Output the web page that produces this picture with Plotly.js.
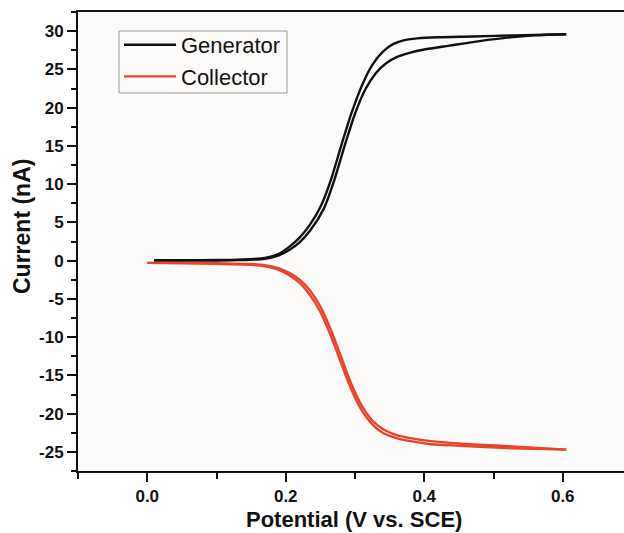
<!DOCTYPE html>
<html>
<head>
<meta charset="utf-8">
<script src="https://cdn.plot.ly/plotly-3.0.1.min.js"></script>
<style>
html,body{margin:0;padding:0;overflow:hidden;background:#fff;}
#chart{width:640px;height:533px;}
</style>
</head>
<body>
<div id="chart"></div>
<script>
// Generator, forward branch (upper plateau)
var genFwdX = [0.01, 0.05, 0.10, 0.13, 0.15, 0.17, 0.19, 0.205, 0.22, 0.235, 0.25, 0.265, 0.28, 0.295, 0.31, 0.325, 0.34, 0.355, 0.37, 0.39, 0.42, 0.47, 0.53, 0.605];
var genFwdY = [0.05, 0.05, 0.08, 0.12, 0.2, 0.35, 0.9, 1.8, 3.0, 4.7, 7.0, 10.5, 15.0, 19.3, 22.9, 25.6, 27.3, 28.3, 28.8, 29.05, 29.2, 29.3, 29.45, 29.6];
// Generator, reverse branch (lower plateau)
var genRevX = [0.01, 0.05, 0.10, 0.13, 0.15, 0.17, 0.19, 0.205, 0.22, 0.235, 0.255, 0.27, 0.285, 0.30, 0.315, 0.33, 0.345, 0.36, 0.38, 0.40, 0.436, 0.48, 0.52, 0.56, 0.605];
var genRevY = [0.0, 0.0, 0.02, 0.06, 0.12, 0.25, 0.7, 1.4, 2.4, 3.9, 6.8, 10.5, 15.0, 19.2, 22.4, 24.5, 25.8, 26.6, 27.2, 27.6, 28.1, 28.7, 29.15, 29.45, 29.6];
// Collector, two overlapping scans
var colAX = [0.0, 0.05, 0.10, 0.15, 0.17, 0.19, 0.205, 0.22, 0.235, 0.25, 0.265, 0.28, 0.295, 0.31, 0.325, 0.34, 0.36, 0.38, 0.41, 0.45, 0.52, 0.605];
var colAY = [-0.3, -0.3, -0.35, -0.45, -0.6, -1.0, -1.6, -2.5, -3.9, -6.0, -9.0, -12.6, -16.2, -19.0, -20.9, -22.0, -22.8, -23.2, -23.6, -23.9, -24.25, -24.7];
var colBX = [0.0, 0.05, 0.10, 0.15, 0.17, 0.19, 0.205, 0.22, 0.235, 0.25, 0.265, 0.28, 0.295, 0.31, 0.325, 0.34, 0.36, 0.38, 0.41, 0.45, 0.52, 0.605];
var colBY = [-0.3, -0.35, -0.4, -0.55, -0.75, -1.2, -1.9, -2.9, -4.5, -6.7, -9.8, -13.4, -16.9, -19.6, -21.4, -22.5, -23.2, -23.6, -24.0, -24.2, -24.5, -24.7];

var yTicks = [-25, -20, -15, -10, -5, 0, 5, 10, 15, 20, 25, 30];
var yTickText = ['-25', '-20', '-15', '-10', '-5', '0', '5', '10', '15', '20', '25', '30'];
var xTicks = [0.0, 0.2, 0.4, 0.6];
var xTickText = ['0.0', '0.2', '0.4', '0.6'];

var black = '#111111';
var red = '#e8442c';
var fam = 'Liberation Sans, Arial, sans-serif';

var traces = [
  {x: genFwdX, y: genFwdY, mode: 'lines', name: 'Generator', legendgroup: 'g',
   line: {color: black, width: 2.4, shape: 'spline', smoothing: 0.8}},
  {x: genRevX, y: genRevY, mode: 'lines', name: 'Generator', legendgroup: 'g', showlegend: false,
   line: {color: black, width: 2.4, shape: 'spline', smoothing: 0.8}},
  {x: colAX, y: colAY, mode: 'lines', name: 'Collector', legendgroup: 'c',
   line: {color: red, width: 2.4, shape: 'spline', smoothing: 0.8}},
  {x: colBX, y: colBY, mode: 'lines', name: 'Collector', legendgroup: 'c', showlegend: false,
   line: {color: red, width: 2.4, shape: 'spline', smoothing: 0.8}}
];

var tickFont = {family: fam, size: 17, color: '#111', weight: 'bold'};
var W = 554, H = 459, L = 78, T = 12;
function px(x) { return (x - L) / W; }
function py(y) { return (T + H - y) / H; }

var layout = {
  width: 640, height: 533,
  margin: {l: 78, r: 8, t: 12, b: 62},
  paper_bgcolor: '#ffffff',
  plot_bgcolor: '#fcfbf9',
  showlegend: true,
  legend: {
    x: px(119), y: py(24), xanchor: 'left', yanchor: 'top',
    bgcolor: 'rgba(0,0,0,0)', borderwidth: 0,
    font: {family: fam, size: 22, color: '#111'},
    itemwidth: 52, tracegroupgap: 0
  },
  shapes: [{
    type: 'rect', xref: 'paper', yref: 'paper',
    x0: px(119), x1: px(287), y0: py(93), y1: py(31),
    line: {color: '#999', width: 1}, fillcolor: 'rgba(0,0,0,0)', layer: 'above'
  }],
  xaxis: {
    range: [-0.1, 0.7], tickvals: xTicks, ticktext: xTickText,
    showgrid: false, zeroline: false,
    showline: true, linecolor: '#111', linewidth: 2, mirror: true,
    ticks: 'outside', ticklen: 9, tickwidth: 2, tickcolor: '#111',
    minor: {tickvals: [-0.1, 0.1, 0.3, 0.5, 0.7], ticks: 'outside', ticklen: 6, tickwidth: 2, tickcolor: '#111'},
    tickfont: tickFont
  },
  yaxis: {
    range: [-27.5, 32.5], tickvals: yTicks, ticktext: yTickText,
    showgrid: false, zeroline: false,
    showline: true, linecolor: '#111', linewidth: 2, mirror: true,
    ticks: 'outside', ticklen: 9, tickwidth: 2, tickcolor: '#111',
    minor: {dtick: 2.5, ticks: 'outside', ticklen: 5, tickwidth: 2, tickcolor: '#111'},
    tickfont: tickFont
  },
  annotations: [{
    text: 'Current (nA)', textangle: -90, xref: 'paper', yref: 'paper',
    x: px(22), y: py(227), xanchor: 'center', yanchor: 'middle', showarrow: false,
    font: {family: fam, size: 23, color: '#111', weight: 'bold'}
  }, {
    text: 'Potential (V vs. SCE)', xref: 'paper', yref: 'paper',
    x: px(354), y: py(519), xanchor: 'center', yanchor: 'middle', showarrow: false,
    font: {family: fam, size: 22, color: '#111', weight: 'bold'}
  }]
};

Plotly.newPlot('chart', traces, layout, {displayModeBar: false, staticPlot: true});
</script>
</body>
</html>
